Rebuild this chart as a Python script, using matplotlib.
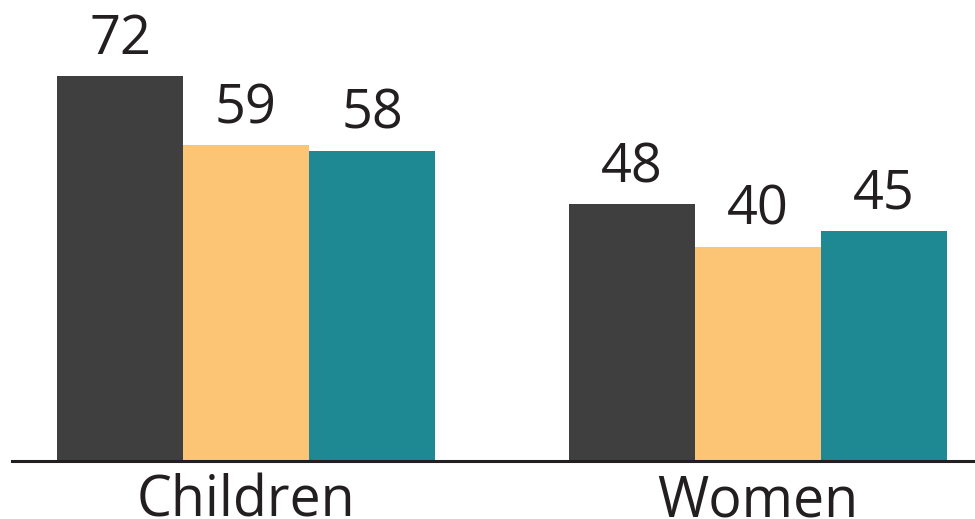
import numpy as np
import matplotlib
matplotlib.use('Agg')
import matplotlib.pyplot as plt
import matplotlib.transforms as mtransforms

# data
groups = ['Children', 'Women']
series_a = [72, 48]   # dark bars
series_b = [59, 40]   # orange bars
series_c = [58, 43]   # teal bars (women bar is drawn a bit lower than its label)
labels_a = ['72', '48']
labels_b = ['59', '40']
labels_c = ['58', '45']

colors = ['#3f3f3f', '#fcc575', '#1e8893']


def main():
    plt.rcParams['font.family'] = ['Open Sans', 'DejaVu Sans']

    fig = plt.figure(figsize=(9.75, 5.19), dpi=100)
    # axes: left edge at the baseline start, bottom at the baseline
    ax = fig.add_axes([12 / 975, 58 / 519, 963 / 975, 461 / 519])

    x = np.arange(len(groups))
    w = 0.246
    all_series = [series_a, series_b, series_c]
    all_labels = [labels_a, labels_b, labels_c]
    for i, vals in enumerate(all_series):
        pos = x + (i - 1) * w
        bars = ax.bar(pos, vals, width=w, color=colors[i], linewidth=0)
        for b, v, lab in zip(bars, vals, all_labels[i]):
            ax.annotate(lab, (b.get_x() + b.get_width() / 2, v),
                        xytext=(0, 6.5), textcoords='offset points',
                        ha='center', va='bottom', fontsize=39, color='#231f20')

    # one group step is ~512 px, children centre at ~246 px
    ax.set_xlim(-234 / 512, (963 - 234) / 512)
    ax.set_ylim(0, 461 / 5.35)

    # category labels below the baseline
    trans = mtransforms.blended_transform_factory(ax.transData, ax.transAxes)
    for xi, g in zip(x, groups):
        ax.text(xi, -0.028, g, transform=trans, ha='center', va='top',
                fontsize=40, color='#231f20')

    for s in ['top', 'right', 'left']:
        ax.spines[s].set_visible(False)
    ax.spines['bottom'].set_linewidth(2.2)
    ax.spines['bottom'].set_color('#231f20')
    ax.set_xticks([])
    ax.set_yticks([])

    fig.savefig('out.png', dpi=100)


if __name__ == '__main__':
    main()
